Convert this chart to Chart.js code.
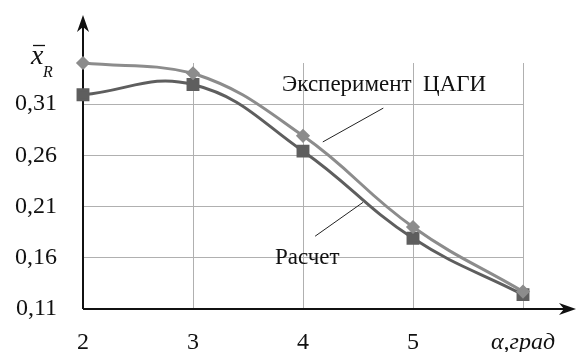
<!DOCTYPE html>
<html>
<head>
<meta charset="utf-8">
<script src="https://cdn.jsdelivr.net/npm/chart.js@4/dist/chart.umd.min.js"></script>
<style>
  html, body { margin: 0; padding: 0; background: #fff; }
  #wrap { width: 577px; height: 352px; position: relative; }
</style>
</head>
<body>
<div id="wrap"><canvas id="chart"></canvas></div>
<script>
// angle of attack, degrees (last tick carries the axis title)
const xLabels = ['2', '3', '4', '5', 'α,град'];
const yTicks = [0.11, 0.16, 0.21, 0.26, 0.31];

// centre of pressure, experiment (TsAGI) vs calculation
const experiment = [0.350, 0.340, 0.279, 0.190, 0.127];
const calculation = [0.319, 0.329, 0.264, 0.179, 0.124];

const serif = '"Liberation Serif", "DejaVu Serif", serif';

// captions with leader lines, placed in data units (angle, x_R)
const notes = [
    { text: 'Эксперимент  ЦАГИ', x: 3.81, y: 0.3285, line: [4.18, 0.273, 4.73, 0.306] },
    { text: 'Расчет', x: 3.745, y: 0.160, line: [4.11, 0.181, 4.545, 0.214] }
];

function arrowHead(ctx, tipX, tipY, dx, dy) {
    // Excel-like arrow with a notched base
    const len = 17, half = 6, notch = 5;
    const px = -dy, py = dx;
    ctx.beginPath();
    ctx.moveTo(tipX, tipY);
    ctx.lineTo(tipX - dx * len + px * half, tipY - dy * len + py * half);
    ctx.lineTo(tipX - dx * (len - notch), tipY - dy * (len - notch));
    ctx.lineTo(tipX - dx * len - px * half, tipY - dy * len - py * half);
    ctx.closePath();
    ctx.fill();
}

const axesPlugin = {
    id: 'axes',
    beforeDatasetsDraw(chart) {
        const { ctx, chartArea: a } = chart;
        ctx.save();
        ctx.strokeStyle = '#111';
        ctx.fillStyle = '#111';
        ctx.lineWidth = 2;
        ctx.beginPath();
        ctx.moveTo(a.left, a.bottom);
        ctx.lineTo(a.left, 20);
        ctx.moveTo(a.left, a.bottom);
        ctx.lineTo(570, a.bottom);
        ctx.stroke();
        arrowHead(ctx, a.left, 15, 0, -1);
        arrowHead(ctx, 576, a.bottom, 1, 0);

        // y axis title: x with overbar and subscript R
        ctx.font = 'italic 28px ' + serif;
        ctx.textBaseline = 'alphabetic';
        ctx.textAlign = 'left';
        ctx.fillText('x', 31, 64);
        ctx.lineWidth = 1.3;
        ctx.beginPath();
        ctx.moveTo(33, 45.5);
        ctx.lineTo(45, 45.5);
        ctx.stroke();
        ctx.font = 'italic 16px ' + serif;
        ctx.fillText('R', 43, 77);
        ctx.restore();
    }
};

const notesPlugin = {
    id: 'notes',
    afterDatasetsDraw(chart) {
        const { ctx, scales } = chart;
        const x0 = Number(xLabels[0]);
        const px = v => scales.x.getPixelForValue(v - x0);
        const py = v => scales.y.getPixelForValue(v);
        ctx.save();
        ctx.fillStyle = '#111';
        ctx.strokeStyle = '#222';
        ctx.lineWidth = 1;
        ctx.font = '23px ' + serif;
        ctx.textBaseline = 'middle';
        ctx.textAlign = 'left';
        notes.forEach(n => {
            ctx.fillText(n.text, px(n.x), py(n.y));
            ctx.beginPath();
            ctx.moveTo(px(n.line[0]), py(n.line[1]));
            ctx.lineTo(px(n.line[2]), py(n.line[3]));
            ctx.stroke();
        });
        ctx.restore();
    }
};

document.addEventListener('DOMContentLoaded', function() {
    const ctx = document.getElementById('chart');
    new Chart(ctx, {
        type: 'line',
        data: {
            labels: xLabels,
            datasets: [{
                label: 'Эксперимент ЦАГИ',
                data: experiment,
                borderColor: '#8c8c8c',
                backgroundColor: '#8c8c8c',
                borderWidth: 3,
                pointStyle: 'rectRot',
                pointRadius: 5,
                tension: 0.42,
                clip: false
            }, {
                label: 'Расчет',
                data: calculation,
                borderColor: '#5e5e5e',
                backgroundColor: '#5e5e5e',
                borderWidth: 3,
                pointStyle: 'rect',
                pointRadius: 7,
                tension: 0.42,
                clip: false
            }]
        },
        options: {
            responsive: true,
            maintainAspectRatio: false,
            animation: false,
            layout: {
                padding: { top: 63, right: 54, left: 0, bottom: 0 }
            },
            plugins: {
                legend: { display: false },
                tooltip: { enabled: false }
            },
            scales: {
                x: {
                    type: 'category',
                    offset: false,
                    afterFit: s => { s.height = 43; },
                    border: { display: false },
                    grid: {
                        drawTicks: false,
                        color: c => c.index === 0 ? 'rgba(0,0,0,0)' : '#b0b0b0'
                    },
                    ticks: {
                        padding: 19,
                        autoSkip: false,
                        maxRotation: 0,
                        color: '#111',
                        font: c => ({
                            family: serif,
                            size: 24,
                            style: c.index === xLabels.length - 1 ? 'italic' : 'normal'
                        })
                    }
                },
                y: {
                    min: 0.11,
                    max: 0.35,
                    afterFit: s => { s.width = 83; },
                    afterBuildTicks: s => { s.ticks = yTicks.map(v => ({ value: v })); },
                    border: { display: false },
                    grid: {
                        drawTicks: false,
                        color: c => c.index === 0 ? 'rgba(0,0,0,0)' : '#b0b0b0'
                    },
                    ticks: {
                        padding: 26,
                        color: '#111',
                        font: { family: serif, size: 24 },
                        callback: v => v.toFixed(2).replace('.', ',')
                    }
                }
            }
        },
        plugins: [axesPlugin, notesPlugin]
    });
});
</script>
</body>
</html>
